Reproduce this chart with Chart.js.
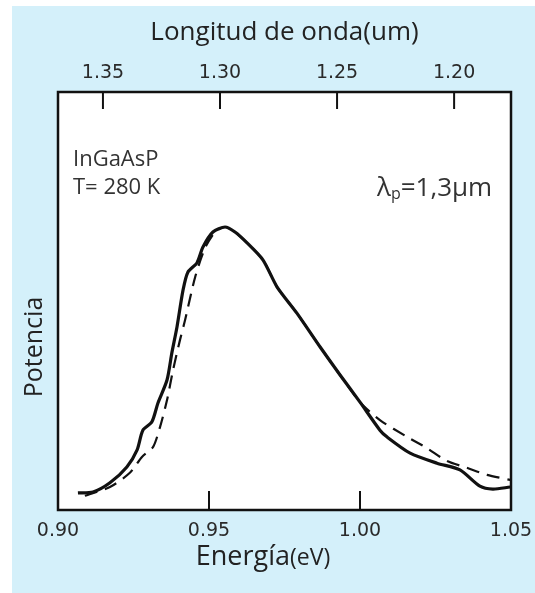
<!DOCTYPE html>
<html>
<head>
<meta charset="utf-8">
<script src="https://cdn.jsdelivr.net/npm/chart.js@4"></script>
<style>
  html, body { margin: 0; padding: 0; background: #ffffff; }
  #wrap { width: 535px; height: 593px; }
</style>
</head>
<body>
<div id="wrap"><canvas id="c" width="535" height="593"></canvas></div>
<script>
// ---- data ----
const energyTicks = [0.90, 0.95, 1.00, 1.05];
const wavelengthTicks = [1.20, 1.25, 1.30, 1.35];

const measuredE = [0.9066, 0.9116, 0.9172, 0.9228, 0.9262, 0.9281, 0.9311, 0.9331, 0.9361, 0.9377, 0.9394, 0.9414, 0.9430, 0.9460, 0.9480, 0.9513, 0.9553, 0.9586, 0.9626, 0.9679, 0.9725, 0.9791, 0.9868, 0.9934, 1.0000, 1.0066, 1.0089, 1.0166, 1.0255, 1.0331, 1.0397, 1.0440, 1.0497];
const measuredP = [4.1, 4.3, 6.5, 10.3, 14.4, 19.1, 21.1, 25.6, 31.1, 37.6, 43.8, 52.6, 56.9, 59.1, 62.9, 66.5, 67.7, 66.5, 63.9, 59.8, 53.4, 47.1, 39.0, 32.3, 25.8, 19.1, 17.5, 13.6, 11.2, 9.6, 5.7, 5.0, 5.5];

const theoryE = [0.9089, 0.9172, 0.9238, 0.9278, 0.9315, 0.9338, 0.9361, 0.9381, 0.9404, 0.9421, 0.9454, 0.9487, 0.9520, 0.9553, 0.9586, 0.9626, 0.9679, 0.9725, 0.9791, 0.9868, 0.9934, 1.0000, 1.0066, 1.0156, 1.0222, 1.0288, 1.0354, 1.0421, 1.0497];
const theoryP = [3.4, 5.5, 8.9, 12.7, 15.1, 19.9, 26.3, 33.5, 40.7, 45.5, 55.7, 62.7, 66.5, 67.7, 66.5, 63.9, 59.8, 53.4, 47.1, 39.0, 32.3, 25.8, 21.5, 17.5, 14.8, 11.7, 10.1, 8.4, 7.2];

const xTitleMain = 'Energía';
const xTitleUnit = '(eV)';
const x2Title = 'Longitud de onda(um)';
const yTitle = 'Potencia';
const noteMaterial = 'InGaAsP';
const noteTemp = 'T= 280 K';

// ---- build datasets ----
const toPts = (xs, ys) => xs.map((x, i) => ({ x: x, y: ys[i] }));

const TITLE_FONT = '"Open Sans", "DejaVu Sans", sans-serif';
const TICK_FONT = '"DejaVu Sans", sans-serif';

const framePlugin = {
  id: 'frame',
  beforeDraw(chart) {
    const { ctx, chartArea: a } = chart;
    ctx.save();
    ctx.fillStyle = '#ffffff';
    ctx.fillRect(0, 0, chart.width, chart.height);
    ctx.fillStyle = 'rgb(212, 240, 250)';
    ctx.fillRect(12, 6, chart.width - 12, chart.height - 6);
    ctx.fillStyle = '#ffffff';
    ctx.fillRect(a.left, a.top, a.right - a.left, a.bottom - a.top);
    ctx.restore();
  },
  afterDraw(chart) {
    const { ctx, chartArea: a } = chart;
    ctx.save();
    // inner tick marks
    ctx.strokeStyle = '#111';
    ctx.lineWidth = 2;
    const xs = chart.scales.x;
    xs.ticks.forEach(t => {
      const px = xs.getPixelForValue(t.value);
      ctx.beginPath(); ctx.moveTo(px, a.bottom); ctx.lineTo(px, a.bottom - 19); ctx.stroke();
    });
    const x2 = chart.scales.x2;
    x2.ticks.forEach(t => {
      const px = x2.getPixelForValue(t.value);
      ctx.beginPath(); ctx.moveTo(px, a.top); ctx.lineTo(px, a.top + 17); ctx.stroke();
    });
    // frame
    ctx.lineWidth = 2.5;
    ctx.strokeStyle = '#111';
    ctx.strokeRect(a.left, a.top, a.right - a.left, a.bottom - a.top);

    // bottom axis title: "Energía" + smaller "(eV)"
    ctx.fillStyle = '#222';
    ctx.textBaseline = 'alphabetic';
    ctx.textAlign = 'left';
    ctx.font = '27px ' + TITLE_FONT;
    const w1 = ctx.measureText(xTitleMain).width;
    ctx.font = '23px ' + TITLE_FONT;
    const w2 = ctx.measureText(xTitleUnit).width;
    let tx = 263 - (w1 + w2) / 2;
    ctx.font = '27px ' + TITLE_FONT;
    ctx.fillText(xTitleMain, tx, 565);
    ctx.font = '23px ' + TITLE_FONT;
    ctx.fillText(xTitleUnit, tx + w1, 565);

    // left axis title
    ctx.save();
    ctx.translate(35, 347);
    ctx.rotate(-Math.PI / 2);
    ctx.textAlign = 'center';
    ctx.textBaseline = 'middle';
    ctx.font = '25px ' + TITLE_FONT;
    ctx.fillText(yTitle, 0, 0);
    ctx.restore();

    // annotations
    ctx.fillStyle = '#333';
    ctx.textBaseline = 'middle';
    ctx.textAlign = 'left';
    ctx.font = '22px ' + TITLE_FONT;
    ctx.fillText(noteMaterial, a.left + 15, 160);
    ctx.fillText(noteTemp, a.left + 15, 188);
    // lambda_p = 1,3 um
    let x = 377;
    ctx.font = '26px ' + TITLE_FONT;
    ctx.fillText('λ', x, 189);
    x += ctx.measureText('λ').width;
    ctx.font = '16px ' + TITLE_FONT;
    ctx.fillText('p', x, 194);
    x += ctx.measureText('p').width;
    ctx.font = '26px ' + TITLE_FONT;
    ctx.fillText('=1,3µm', x, 189);
    ctx.restore();
  }
};

const zeroPad = s => { s.paddingLeft = 0; s.paddingRight = 0; };

new Chart(document.getElementById('c'), {
  type: 'line',
  data: {
    datasets: [
      {
        label: 'medida',
        data: toPts(measuredE, measuredP),
        borderColor: '#111',
        borderWidth: 3.2,
        pointRadius: 0,
        tension: 0.25,
        fill: false,
        xAxisID: 'x',
        yAxisID: 'y'
      },
      {
        label: 'teoría',
        data: toPts(theoryE, theoryP),
        borderColor: '#111',
        borderWidth: 2.2,
        borderDash: [13, 8],
        pointRadius: 0,
        tension: 0.25,
        fill: false,
        xAxisID: 'x',
        yAxisID: 'y'
      }
    ]
  },
  plugins: [framePlugin],
  options: {
    responsive: false,
    animation: false,
    devicePixelRatio: 1,
    layout: { padding: { left: 0, top: 0, right: 24, bottom: 0 } },
    plugins: {
      legend: { display: false },
      tooltip: { enabled: false }
    },
    scales: {
      x: {
        type: 'linear',
        position: 'bottom',
        min: 0.90,
        max: 1.05,
        afterBuildTicks: s => { s.ticks = energyTicks.map(v => ({ value: v })); },
        afterFit: s => { s.height = 83; zeroPad(s); },
        grid: { display: false, drawTicks: false },
        border: { display: false },
        ticks: {
          color: '#2a2a2a',
          font: { family: TICK_FONT, size: 19 },
          padding: 10,
          maxRotation: 0,
          callback: v => Number(v).toFixed(2)
        },
        title: { display: false }
      },
      x2: {
        type: 'linear',
        position: 'top',
        reverse: true,
        min: 1.1757,
        max: 1.3692,
        afterBuildTicks: s => { s.ticks = wavelengthTicks.map(v => ({ value: v })); },
        afterFit: s => { s.height = 92; zeroPad(s); },
        grid: { display: false, drawTicks: false },
        border: { display: false },
        ticks: {
          color: '#2a2a2a',
          font: { family: TICK_FONT, size: 19 },
          padding: 8,
          maxRotation: 0,
          callback: v => Number(v).toFixed(2)
        },
        title: {
          display: true,
          text: x2Title,
          color: '#222',
          font: { family: TITLE_FONT, size: 26 },
          padding: { top: 17, bottom: 0 }
        }
      },
      y: {
        type: 'linear',
        position: 'left',
        min: 0,
        max: 100,
        afterFit: s => { s.width = 58; },
        grid: { display: false, drawTicks: false },
        border: { display: false },
        ticks: { display: false },
        title: { display: false }
      }
    }
  }
});
</script>
</body>
</html>
